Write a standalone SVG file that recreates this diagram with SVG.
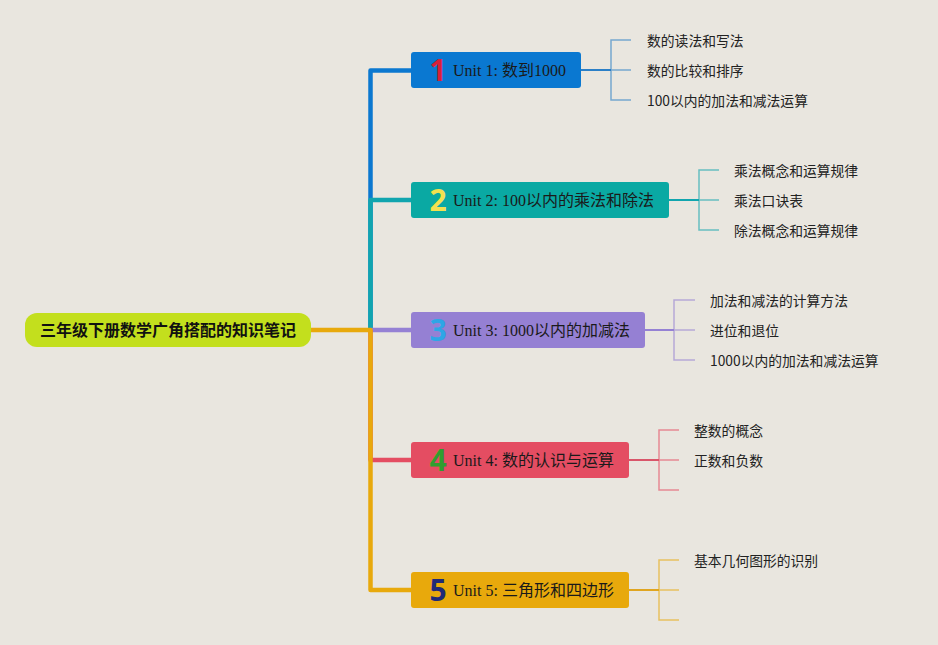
<svg xmlns="http://www.w3.org/2000/svg" width="938" height="645" viewBox="0 0 938 645">
<style>
.bg{fill:#e9e6df}
.spine{fill:none;stroke-width:4.5;stroke-linejoin:round}
.link{fill:none;stroke-width:2}
.brk{fill:none;stroke-width:1.5;opacity:0.6}
.ntext{font-family:"Liberation Serif","Noto Sans CJK SC",serif;font-size:16px;fill:#1a1a1a}
.num{font-family:"Noto Sans","Open Sans",sans-serif;font-size:30px;font-weight:700;text-anchor:middle}
.ctext{font-family:"Noto Sans CJK SC","Noto Sans",sans-serif;font-size:13.8px;fill:#222}
.root{font-family:"Noto Sans CJK SC","Noto Sans",sans-serif;font-size:16px;font-weight:700;fill:#111;text-anchor:middle}
</style>
<rect class="bg" x="0" y="0" width="938" height="645"/>
<g id="connectors">
<path class="spine" stroke="#0b78d0" d="M370.5,330 V70.5 H411"/>
<path class="spine" stroke="#11a5ae" d="M370.5,330 V200 H411"/>
<path class="spine" stroke="#9581d4" d="M370.5,330 H411"/>
<path class="spine" stroke="#e44d62" d="M370.5,330 V460 H411"/>
<path class="spine" stroke="#e8a90c" d="M310,330 H370.5 V590 H411"/>
<path class="link" stroke="#2a7fc7" d="M581,70 H611"/>
<path class="brk" stroke="#2a7fc7" d="M631,40 H611 V100 H631 M611,70 H631"/>
<path class="link" stroke="#11a5ae" d="M669,200 H699"/>
<path class="brk" stroke="#11a5ae" d="M719,170 H699 V230 H719 M699,200 H719"/>
<path class="link" stroke="#9581d4" d="M645,330 H674"/>
<path class="brk" stroke="#9581d4" d="M695,300 H674 V360 H695 M674,330 H695"/>
<path class="link" stroke="#d9566a" d="M629,460 H659"/>
<path class="brk" stroke="#e44d62" d="M679,430 H659 V490 H679 M659,460 H679"/>
<path class="link" stroke="#e0a520" d="M629,590 H659"/>
<path class="brk" stroke="#e8a90c" d="M679,560 H659 V620 H679 M659,590 H679"/>
</g>
<g id="root">
<rect x="25" y="313" width="286" height="34" rx="12" fill="#c3df1d"/>
<text class="root" x="168" y="336">三年级下册数学广角搭配的知识笔记</text>
</g>
<g id="unit1">
<rect x="411" y="52" width="170" height="36" rx="3" fill="#0a78d1"/>
<text class="num" x="438" y="81" fill="#d8203a">1</text>
<text class="ntext" x="453" y="76">Unit 1: 数到1000</text>
</g>
<g id="unit2">
<rect x="411" y="182" width="258" height="36" rx="3" fill="#0aa9a3"/>
<text class="num" x="438" y="211" fill="#f2e150">2</text>
<text class="ntext" x="453" y="206">Unit 2: 100以内的乘法和除法</text>
</g>
<g id="unit3">
<rect x="411" y="312" width="234" height="36" rx="3" fill="#9580d3"/>
<text class="num" x="438" y="341" fill="#2ea6e6">3</text>
<text class="ntext" x="453" y="336">Unit 3: 1000以内的加减法</text>
</g>
<g id="unit4">
<rect x="411" y="442" width="218" height="36" rx="3" fill="#e44d62"/>
<text class="num" x="438" y="471" fill="#2f9e2f">4</text>
<text class="ntext" x="453" y="466">Unit 4: 数的认识与运算</text>
</g>
<g id="unit5">
<rect x="411" y="572" width="218" height="36" rx="3" fill="#e8a90c"/>
<text class="num" x="438" y="601" fill="#1f2a78">5</text>
<text class="ntext" x="453" y="596">Unit 5: 三角形和四边形</text>
</g>
<g id="u1c">
<text class="ctext" x="647" y="46">数的读法和写法</text>
<text class="ctext" x="647" y="76">数的比较和排序</text>
<text class="ctext" x="647" y="106">100以内的加法和减法运算</text>
</g>
<g id="u2c">
<text class="ctext" x="734" y="176">乘法概念和运算规律</text>
<text class="ctext" x="734" y="206">乘法口诀表</text>
<text class="ctext" x="734" y="236">除法概念和运算规律</text>
</g>
<g id="u3c">
<text class="ctext" x="710" y="306">加法和减法的计算方法</text>
<text class="ctext" x="710" y="336">进位和退位</text>
<text class="ctext" x="710" y="366">1000以内的加法和减法运算</text>
</g>
<g id="u4c">
<text class="ctext" x="694" y="436">整数的概念</text>
<text class="ctext" x="694" y="466">正数和负数</text>
</g>
<g id="u5c">
<text class="ctext" x="694" y="566">基本几何图形的识别</text>
</g>
</svg>
